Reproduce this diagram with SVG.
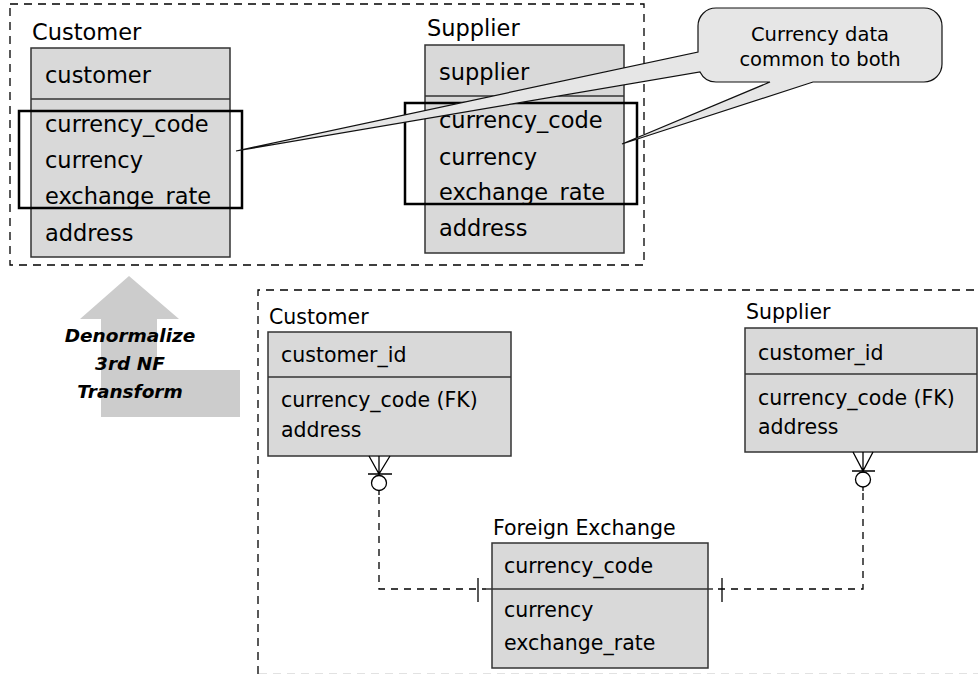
<svg xmlns="http://www.w3.org/2000/svg" width="978" height="674" viewBox="0 0 978 674">
<style>
.frame{fill:none;stroke:#000;stroke-width:1.3;stroke-dasharray:8 6}
.tbl{fill:#d9d9d9;stroke:#333;stroke-width:1.5}
.div{stroke:#333;stroke-width:1.5}
.hl{fill:none;stroke:#000;stroke-width:2.5}
.t1{font-family:"DejaVu Sans",sans-serif;font-size:22.5px;fill:#000}
.t2{font-family:"DejaVu Sans",sans-serif;font-size:20.5px;fill:#000}
.tc{font-family:"DejaVu Sans",sans-serif;font-size:19.5px;fill:#000;text-anchor:middle}
.tb{font-family:"DejaVu Sans",sans-serif;font-size:18.5px;font-weight:bold;font-style:italic;fill:#000;text-anchor:middle}
.con{fill:none;stroke:#000;stroke-width:1.3}
.dash{stroke-dasharray:7 6}
</style>
<rect width="978" height="674" fill="#fff"/>
<g id="frames">
<rect class="frame" x="10" y="4" width="634" height="261"/>
<path class="frame" d="M258,674 V290 H978"/>
<path d="M259,673.5 H978" fill="none" stroke="#e2e2e2" stroke-width="1" stroke-dasharray="8 6"/>
</g>
<g id="top-customer">
<text class="t1" x="32" y="40">Customer</text>
<rect class="tbl" x="31" y="48" width="199" height="209"/>
<line class="div" x1="31" y1="99" x2="230" y2="99"/>
<text class="t1" x="45" y="83">customer</text>
<text class="t1" x="45" y="132">currency_code</text>
<text class="t1" x="45" y="168">currency</text>
<text class="t1" x="45" y="204">exchange_rate</text>
<text class="t1" x="45" y="241">address</text>
<rect class="hl" x="19" y="111" width="223" height="97"/>
</g>
<g id="top-supplier">
<text class="t1" x="427" y="36">Supplier</text>
<rect class="tbl" x="425" y="45" width="199" height="208"/>
<line class="div" x1="425" y1="96" x2="624" y2="96"/>
<text class="t1" x="439" y="80">supplier</text>
<text class="t1" x="439" y="128">currency_code</text>
<text class="t1" x="439" y="165">currency</text>
<text class="t1" x="439" y="200">exchange_rate</text>
<text class="t1" x="439" y="236">address</text>
<rect class="hl" x="405" y="103" width="232" height="101"/>
</g>
<g id="callout">
<path d="M716,8 H924 A18,18 0 0 1 942,26 V64 A18,18 0 0 1 924,82 H813 L622,144 L770,82 H716 A18,18 0 0 1 700,72 L236,151 L698,52 V26 A18,18 0 0 1 716,8 Z" fill="#e6e6e6" stroke="#111" stroke-width="1.2"/>
<text class="tc" x="820" y="41">Currency data</text>
<text class="tc" x="820" y="66">common to both</text>
</g>
<g id="transform-arrow">
<polygon points="129,276 179,319 157,319 157,370 240,370 240,417 101,417 101,319 80,319" fill="#cccccc"/>
<text class="tb" x="130" y="342">Denormalize</text>
<text class="tb" x="130" y="370">3rd NF</text>
<text class="tb" x="130" y="398">Transform</text>
</g>
<g id="bottom-customer">
<text class="t2" x="269" y="324">Customer</text>
<rect class="tbl" x="268" y="332" width="243" height="124"/>
<line class="div" x1="268" y1="377" x2="511" y2="377"/>
<text class="t2" x="281" y="362">customer_id</text>
<text class="t2" x="281" y="407">currency_code (FK)</text>
<text class="t2" x="281" y="437">address</text>
</g>
<g id="bottom-supplier">
<text class="t2" x="746" y="319">Supplier</text>
<rect class="tbl" x="745" y="328" width="232" height="124"/>
<line class="div" x1="745" y1="374" x2="977" y2="374"/>
<text class="t2" x="758" y="360">customer_id</text>
<text class="t2" x="758" y="405">currency_code (FK)</text>
<text class="t2" x="758" y="434">address</text>
</g>
<g id="foreign-exchange">
<text class="t2" x="493" y="535">Foreign Exchange</text>
<rect class="tbl" x="492" y="543" width="216" height="125"/>
<line class="div" x1="486" y1="589" x2="713" y2="589"/>
<text class="t2" x="504" y="573">currency_code</text>
<text class="t2" x="504" y="617">currency</text>
<text class="t2" x="504" y="650">exchange_rate</text>
</g>
<g id="connectors">
<path class="con" d="M369,456 L379,474 L390,456 M379,456 V476 M368,474 H392"/>
<circle class="con" cx="379" cy="483" r="7.5"/>
<path class="con" d="M379,490.5 V495"/>
<path class="con dash" d="M379,497 V589 H486"/>
<path class="con" d="M478,578 V602"/>
<path class="con" d="M853,452 L863,471 L873,452 M863,452 V473 M852,471 H875"/>
<circle class="con" cx="863" cy="479.5" r="7.5"/>
<path class="con" d="M863,487 V491"/>
<path class="con dash" d="M863,493 V589 H713"/>
<path class="con" d="M722,578 V602"/>
</g>
</svg>
